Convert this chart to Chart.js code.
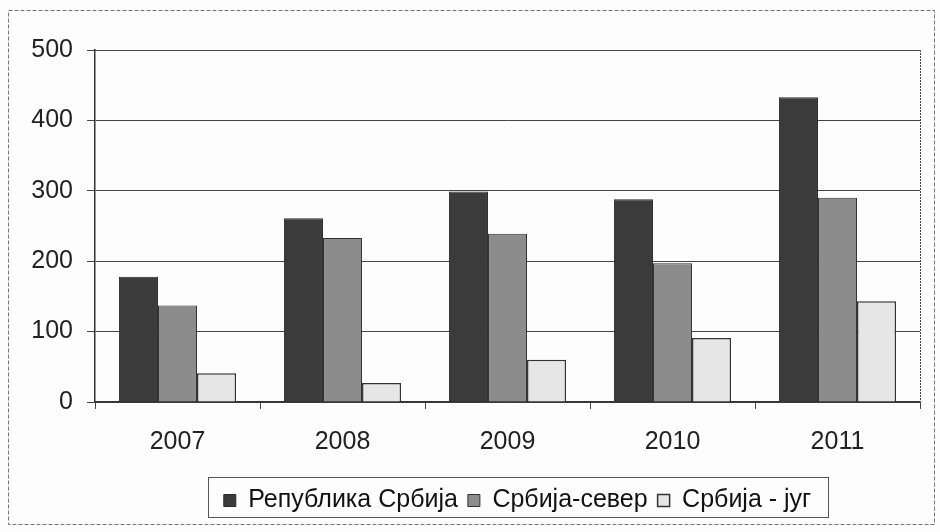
<!DOCTYPE html>
<html lang="sr">
<head>
    <meta charset="UTF-8">
    <title>Република Србија</title>
    <script src="https://cdn.jsdelivr.net/npm/chart.js@4.4.0/dist/chart.umd.min.js"></script>
    <style>
        html, body { margin: 0; padding: 0; background: #fdfdfd; }
        #chartContainer { width: 940px; height: 532px; }
    </style>
</head>
<body>
<div id="chartContainer">
    <canvas id="myChart" width="940" height="532"></canvas>
</div>

<script>
    const years = ['2007', '2008', '2009', '2010', '2011'];
    const republika = [178, 261, 299, 288, 433];
    const sever = [137, 233, 239, 197, 290];
    const jug = [41, 27, 60, 91, 143];
    const yTicks = [0, 100, 200, 300, 400, 500];

    // frame around whole picture + dotted top/right border of plot area + legend box
    const framePlugin = {
        id: 'frame',
        afterLayout(chart) {
            // legend sits a bit right of the canvas centre in the original
            chart.legend.left += 50;
            chart.legend.right += 50;
            chart.legend.top += 5;
            chart.legend.bottom += 5;
        },
        beforeDraw(chart) {
            const c = chart.ctx;
            c.save();
            c.fillStyle = '#fdfdfd';
            c.fillRect(0, 0, chart.width, chart.height);
            c.strokeStyle = '#777';
            c.lineWidth = 1;
            c.setLineDash([4, 2]);
            c.strokeRect(8.5, 10.5, 926, 514);
            c.restore();
        },
        afterDraw(chart) {
            const c = chart.ctx;
            const a = chart.chartArea;
            c.save();
            c.strokeStyle = '#444';
            c.lineWidth = 1;
            c.setLineDash([2, 1]);
            c.beginPath();
            c.moveTo(a.left, a.top + 0.5);
            c.lineTo(a.right + 0.5, a.top + 0.5);
            c.lineTo(a.right + 0.5, a.bottom);
            c.stroke();
            c.setLineDash([]);
            c.strokeStyle = '#555';
            c.strokeRect(208.5, 477.5, 620, 40);
            c.restore();
        }
    };

    const ctx = document.getElementById('myChart').getContext('2d');
    new Chart(ctx, {
        type: 'bar',
        data: {
            labels: years,
            datasets: [
                {
                    label: 'Република Србија',
                    data: republika,
                    backgroundColor: '#3b3b3b',
                    borderColor: '#2a2a2a',
                    borderWidth: 1
                },
                {
                    label: 'Србија-север',
                    data: sever,
                    backgroundColor: '#8c8c8c',
                    borderColor: '#333',
                    borderWidth: 1
                },
                {
                    label: 'Србија - југ',
                    data: jug,
                    backgroundColor: '#e6e6e6',
                    borderColor: '#333',
                    borderWidth: 1.5
                }
            ]
        },
        options: {
            responsive: false,
            animation: false,
            layout: {
                padding: { left: 15, right: 20, top: 50, bottom: 14 }
            },
            datasets: {
                bar: { categoryPercentage: 0.71, barPercentage: 1 }
            },
            scales: {
                x: {
                    offset: true,
                    ticks: {
                        color: '#222',
                        font: { family: 'Liberation Sans', size: 25 },
                        padding: 18
                    },
                    grid: {
                        offset: true,
                        drawOnChartArea: false,
                        drawTicks: true,
                        tickLength: 7,
                        color: '#444'
                    },
                    border: { color: '#333', width: 1.5 },
                    afterFit: scale => { scale.height = 71; }
                },
                y: {
                    min: 0,
                    max: 500,
                    afterBuildTicks: scale => { scale.ticks = yTicks.map(v => ({ value: v })); },
                    ticks: {
                        color: '#222',
                        font: { family: 'Liberation Sans', size: 25 },
                        padding: 14
                    },
                    grid: {
                        color: '#444',
                        lineWidth: 1,
                        tickLength: 8
                    },
                    border: { color: '#333', width: 1.5 },
                    afterFit: scale => { scale.width = 80; }
                }
            },
            plugins: {
                legend: {
                    position: 'bottom',
                    labels: {
                        color: '#111',
                        font: { family: 'Liberation Sans', size: 25 },
                        boxWidth: 12,
                        boxHeight: 12,
                        padding: 10
                    }
                },
                tooltip: { enabled: false }
            }
        },
        plugins: [framePlugin]
    });
</script>
</body>
</html>
